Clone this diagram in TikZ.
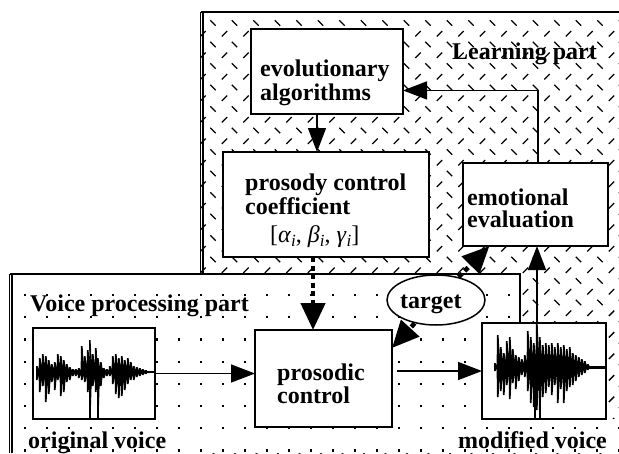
\documentclass[tikz,border=0pt]{standalone}
\usepackage{fontspec}
\setmainfont{Liberation Serif}
\usetikzlibrary{arrows.meta,shapes.geometric}
\begin{document}
\begin{tikzpicture}[x=1pt,y=-1pt,
  box/.style={draw, line width=1.8pt, fill=white, inner sep=0pt, outer sep=0pt},
  lbl/.style={font=\fontsize{24}{23}\selectfont\bfseries, inner sep=0pt, anchor=base west},
  arr/.style={line width=1.5pt, -{Triangle[length=24pt,width=18pt]}},
  darr/.style={line width=4.5pt, dash pattern=on 5pt off 3.5pt, -{Triangle[length=27pt,width=24pt]}},
  region/.style={line width=1.5pt},
  edge2/.style={line width=1.1pt}
]
\useasboundingbox (0,0) rectangle (619,453);
\fill[white] (0,0) rectangle (619,453);

% learning part hatch
\begin{scope}
\clip (201,12) rectangle (619,453);
\foreach \r in {0,...,20} {
  \foreach \c in {0,...,19} {
    \draw[line width=1.4pt] ({213+21.5*\c-2.7},{23+21.5*\r-2.7}) -- ++(5.4,5.4);
    \draw[line width=1.4pt] ({203+21.5*\c-2.7},{33.75+21.5*\r+2.7}) -- ++(5.4,-5.4);
  }
}
\end{scope}
\draw[region] (619,12) -- (201,12);
\draw[edge2] (200.5,12) -- (200.5,453);
\draw[edge2] (203,12) -- (203,453);

% voice part dotted region
\fill[white] (9,274) -- (520,274) -- (520,419) -- (619,419) -- (619,453) -- (9,453) -- cycle;
\begin{scope}
\clip (10,274) -- (520,274) -- (520,419) -- (619,419) -- (619,453) -- (10,453) -- cycle;
\foreach \r in {0,...,7} {
  \foreach \c in {0,...,27} {
    \fill ({25+22*\c-1},{295+22.2*\r-1}) rectangle ++(2.2,2.2);
  }
}
\end{scope}
\draw[region] (10,274) -- (520,274) -- (520,323);
\draw[edge2] (9.5,274) -- (9.5,453);
\draw[edge2] (12,274) -- (12,453);

% boxes
\node[box, minimum width=152pt, minimum height=85pt] (evo) at (327,71.5) {};
\node[box, minimum width=206pt, minimum height=105pt] (pcc) at (326,204.5) {};
\node[box, minimum width=145pt, minimum height=83pt] (emo) at (535.5,204.5) {};
\node[box, minimum width=137pt, minimum height=97pt] (pros) at (323.5,378.5) {};
\node[box, minimum width=122pt, minimum height=91pt] (orig) at (94,373.5) {};
\node[box, minimum width=124pt, minimum height=96pt] (mod) at (544,371) {};
\node[draw, ellipse, line width=1.5pt, fill=white, minimum width=98pt, minimum height=50pt, inner sep=0pt] (target) at (436,300) {};

% waveforms
\begin{scope}
\clip (34,329) rectangle (154,418);
\fill (36,372) \foreach \x/\u/\d in {37/6/8, 40/14/20, 43/18/14, 46/16/30, 49/12/22, 52/8/10, 55/10/18, 58/18/8, 61/16/24, 64/12/20, 67/8/10, 70/5/8, 73/3/4, 76/3/4, 79/4/6, 82/26/8, 85/16/10, 88/22/20, 90/32/46, 93/18/14, 96/24/20, 98/14/46, 101/10/14, 104/4/6, 107/3/4, 110/6/4, 113/16/12, 116/18/22, 119/14/26, 122/16/24, 125/12/18, 128/14/12, 131/10/8, 134/6/8, 137/5/5, 140/4/4, 143/3/3, 146/2/2, 149/1/1}
  { -- ({\x-1},{372-\u}) -- ({\x+0.6},{372-\u}) -- ({\x+1.6},{372-0.3*\u}) } -- (151,372) -- cycle;
\fill (36,372) \foreach \x/\u/\d in {37/6/8, 40/14/20, 43/18/14, 46/16/30, 49/12/22, 52/8/10, 55/10/18, 58/18/8, 61/16/24, 64/12/20, 67/8/10, 70/5/8, 73/3/4, 76/3/4, 79/4/6, 82/26/8, 85/16/10, 88/22/20, 90/32/46, 93/18/14, 96/24/20, 98/14/46, 101/10/14, 104/4/6, 107/3/4, 110/6/4, 113/16/12, 116/18/22, 119/14/26, 122/16/24, 125/12/18, 128/14/12, 131/10/8, 134/6/8, 137/5/5, 140/4/4, 143/3/3, 146/2/2, 149/1/1}
  { -- ({\x-1},{372+\d}) -- ({\x+0.6},{372+\d}) -- ({\x+1.6},{372+0.3*\d}) } -- (151,372) -- cycle;
\draw[line width=2pt] (90,372) -- (90,418) (98,372) -- (98,418);
\draw[line width=2.5pt] (37,372) -- (155,372);
\end{scope}
\begin{scope}
\clip (483,324) rectangle (605,418);
\fill (494,367) \foreach \x/\u/\d in {495/4/4, 498/32/30, 501/20/24, 504/14/28, 507/26/18, 510/30/32, 513/18/16, 516/12/22, 519/10/14, 522/8/8, 525/12/10, 528/36/24, 531/30/36, 534/24/40, 537/46/43, 540/30/43, 543/22/30, 546/24/26, 549/22/20, 552/24/28, 555/20/18, 558/24/36, 561/20/22, 564/22/36, 567/18/24, 570/20/20, 573/14/18, 576/12/14, 579/10/10, 582/8/8, 585/6/6, 588/3/3}
  { -- ({\x-1},{367-\u}) -- ({\x+0.6},{367-\u}) -- ({\x+1.6},{367-0.3*\u}) } -- (590,367) -- cycle;
\fill (494,367) \foreach \x/\u/\d in {495/4/4, 498/32/30, 501/20/24, 504/14/28, 507/26/18, 510/30/32, 513/18/16, 516/12/22, 519/10/14, 522/8/8, 525/12/10, 528/36/24, 531/30/36, 534/24/40, 537/46/43, 540/30/43, 543/22/30, 546/24/26, 549/22/20, 552/24/28, 555/20/18, 558/24/36, 561/20/22, 564/22/36, 567/18/24, 570/20/20, 573/14/18, 576/12/14, 579/10/10, 582/8/8, 585/6/6, 588/3/3}
  { -- ({\x-1},{367+\d}) -- ({\x+0.6},{367+\d}) -- ({\x+1.6},{367+0.3*\d}) } -- (590,367) -- cycle;
\draw[line width=2pt] (535,367) -- (535,418) (540,367) -- (540,418);
\draw[line width=3pt] (495,367) -- (606,367);
\end{scope}

% texts
\node[lbl] (evo1) at (260,76) {evolutionary};
\node[lbl] (evo2) at (260,100) {algorithms};
\node[lbl] (pcc1) at (245,190) {prosody control};
\node[lbl] (pcc2) at (245,214) {coefficient};
\node[lbl, font=\fontsize{24}{24}\selectfont\mdseries] (pcc3) at (270,242)
  {[\textit{α}\raisebox{-4pt}{\fontsize{17}{17}\selectfont\textit{i}}, \textit{β}\raisebox{-4pt}{\fontsize{17}{17}\selectfont\textit{i}}, \textit{γ}\raisebox{-4pt}{\fontsize{17}{17}\selectfont\textit{i}}]};
\node[lbl] (emo1) at (467,205) {emotional};
\node[lbl] (emo2) at (467,227) {evaluation};
\node[lbl] (pros1) at (277,380) {prosodic};
\node[lbl] (pros2) at (277,403) {control};
\node[lbl] (tgt) at (400,308) {target};
\node[lbl] (learn) at (452,59) {Learning part};
\node[lbl] (voice) at (30,311) {Voice processing part};
\node[lbl] (origl) at (28,448) {original voice};
\node[lbl] (modl) at (458,448) {modified voice};

% connectors
\draw[arr] ([xshift=-10pt]evo.south) -- ([xshift=-10pt]evo.south |- pcc.north);
\draw[arr] ([xshift=2.5pt]emo.north) |- (evo.-14.4);
\draw[darr] ([xshift=-13pt]pcc.south) -- ([xshift=-13pt]pcc.south |- pros.north);
\draw[darr] (target) -- (pros.24);
\draw[darr] (target) -- (emo.222);
\draw[arr] (orig.east) -- (orig.east -| pros.west);
\draw[arr, shorten <=5pt] (pros.east |- mod.west) -- (mod.west);
\draw[arr] ([xshift=-7pt]mod.north) -- ([xshift=-7pt]mod.north |- emo.south);
\end{tikzpicture}
\end{document}
